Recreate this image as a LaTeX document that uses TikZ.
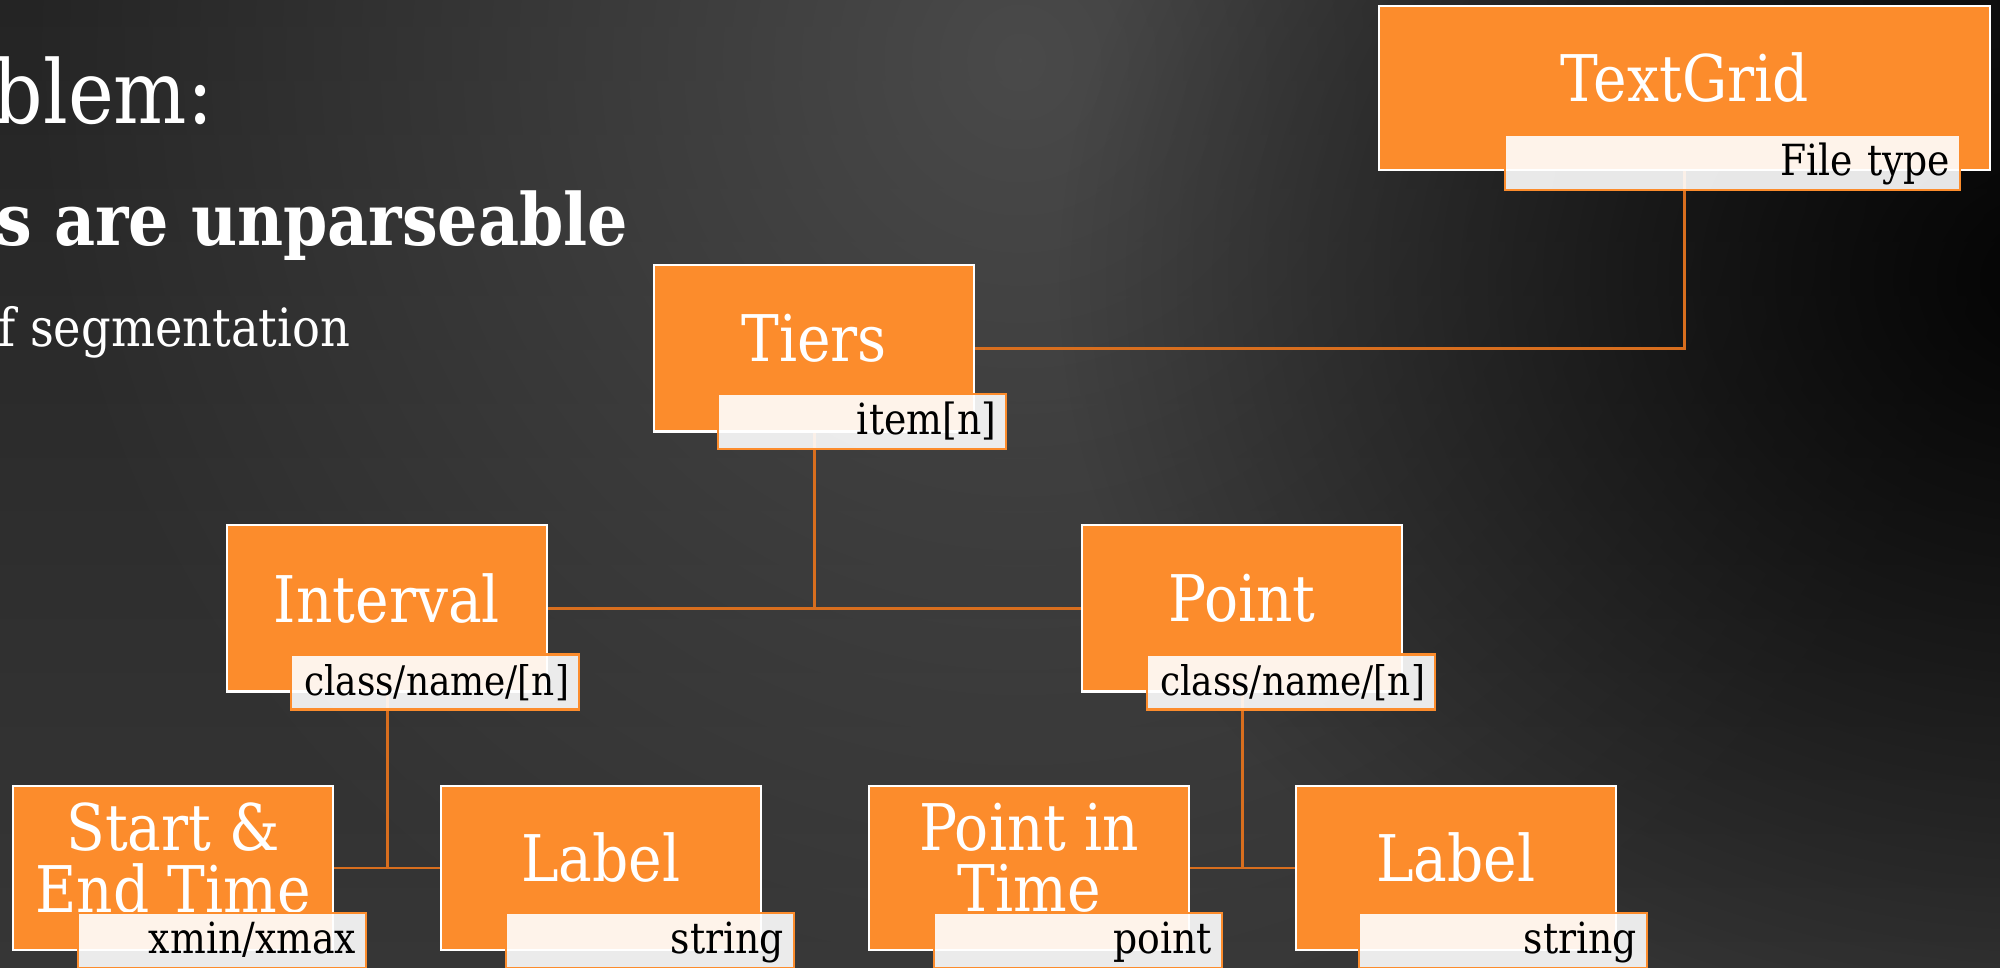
\documentclass[tikz,border=0pt]{standalone}
\usepackage{fontspec}
\setmainfont[FakeStretch=0.88]{DejaVu Serif}
\usetikzlibrary{fadings}
\definecolor{boxor}{RGB}{252,140,44}
\definecolor{lineor}{RGB}{216,110,30}
\definecolor{bgtopc}{HTML}{242424}
\definecolor{bgmidc}{HTML}{121212}
\definecolor{bgbotc}{HTML}{363636}
\definecolor{bgglow}{HTML}{4A4A4A}
\tikzfading[name=softglow, inner color=transparent!0, outer color=transparent!100]
\pgfdeclarelayer{bglayer}
\pgfdeclarelayer{linelayer}
\pgfsetlayers{bglayer,linelayer,main}
\begin{document}
\begin{tikzpicture}[x=0.01cm,y=-0.01cm,
  boxtext/.style={text=white, align=center, inner sep=0pt, yshift=0.1cm,
    font=\fontsize{18.3}{17.5}\selectfont},
  mainbox/.style={rectangle, fill=boxor, draw=white, line width=0.6pt,
    minimum width=3.2cm, minimum height=1.66cm, inner sep=0pt,
    label={[boxtext]center:{#1}}},
  typebox/.style={rectangle, fill=white, fill opacity=0.9, text opacity=1,
    draw=boxor, draw opacity=1, line width=0.7pt, minimum height=0.55cm,
    inner xsep=0.1cm, inner ysep=0pt, text width=2.68cm, align=right,
    text=black, font=\fontsize{12.2}{14}\selectfont,
    text height=9.6pt, text depth=2pt},
  conn/.style={draw=lineor, line width=0.85pt},
  headtext/.style={anchor=base east, text=white, inner sep=0pt}]
\useasboundingbox (0,0) rectangle (2000,968);

\begin{pgfonlayer}{bglayer}
  \shade[top color=bgtopc, middle color=bgmidc, bottom color=bgbotc] (0,0) rectangle (2000,968);
  \begin{scope}
    \clip (0,0) rectangle (2000,968);
    \fill[bgglow, path fading=softglow] (1020,60) ellipse (1000 and 1050);
    \fill[black, path fading=softglow, fill opacity=0.9] (2060,280) ellipse (1000 and 800);
  \end{scope}
\end{pgfonlayer}

% header text (slide title, partly cut off at the left edge)
\node[headtext, font=\fontsize{25}{30}\selectfont] (title) at (214,124) {blem:};
\node[headtext, font=\bfseries\fontsize{20.5}{24}\selectfont] (bullet) at (629,246) {s are unparseable};
\node[headtext, font=\fontsize{15}{18}\selectfont] (sub) at (351,347) {f segmentation};

% main boxes
\node[mainbox={TextGrid}, minimum width=6.11cm, minimum height=1.64cm] (tg) at (1684.5,88) {};
\node[mainbox={Tiers}] (tiers) at (814,348.5) {};
\node[mainbox={Interval}] (interval) at (387,608.5) {};
\node[mainbox={Point}] (point) at (1242,608.5) {};
\node[mainbox={Start \&\\End Time}, minimum height=1.64cm] (startt) at (173,868) {};
\node[mainbox={Label}, minimum height=1.64cm] (label1) at (601,868) {};
\node[mainbox={Point in\\Time}, minimum height=1.64cm] (pit) at (1029,868) {};
\node[mainbox={Label}, minimum height=1.64cm] (label2) at (1456,868) {};

% type boxes
\node[typebox, text width=4.35cm] (tgtype) at (1732.5,162.5) {File type};
\node[typebox] (tierstype) at (862,421.5) {item[n]};
\node[typebox, font=\fontsize{11.6}{14}\selectfont] (intervaltype) at (435,682) {class/name/[n]};
\node[typebox, font=\fontsize{11.6}{14}\selectfont] (pointtype) at (1291,682) {class/name/[n]};
\node[typebox] (starttype) at (222,940.5) {xmin/xmax};
\node[typebox] (label1type) at (650,940.5) {string};
\node[typebox] (pittype) at (1078,940.5) {point};
\node[typebox] (label2type) at (1503,940.5) {string};

% connectors
\begin{pgfonlayer}{linelayer}
  \draw[conn] (tg.south) -- (tg.south |- tiers.east) -- (tiers.east);
  \draw[conn] (tiers.south) -- (tiers.south |- interval.east);
  \draw[conn] (interval.east) -- (point.west);
  \draw[conn] (interval.south) -- (interval.south |- startt.east);
  \draw[conn] (startt.east) -- (label1.west);
  \draw[conn] (point.south) -- (point.south |- pit.east);
  \draw[conn] (pit.east) -- (label2.west);
\end{pgfonlayer}
\end{tikzpicture}
\end{document}
